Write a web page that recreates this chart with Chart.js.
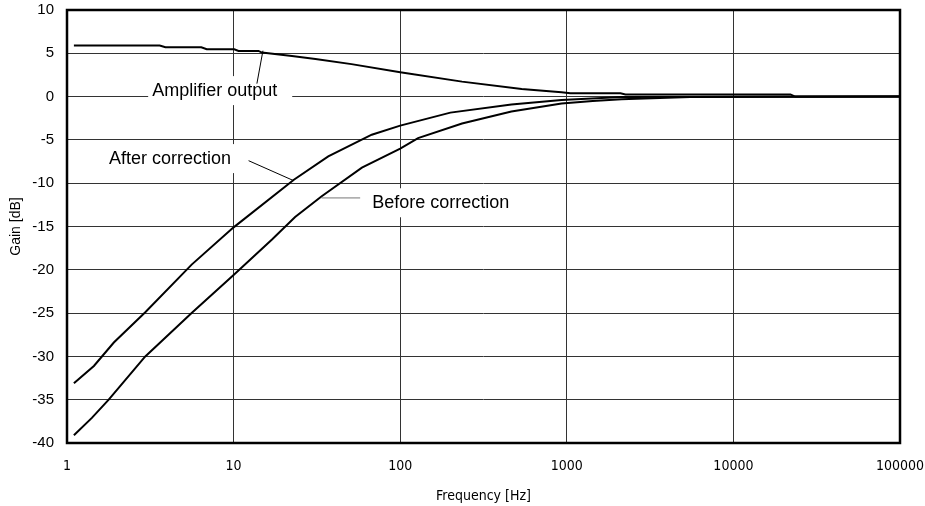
<!DOCTYPE html>
<html>
<head>
<meta charset="utf-8">
<script src="https://cdn.jsdelivr.net/npm/chart.js@4"></script>
<style>
  body { margin: 0; background: #fff; }
  #wrap { width: 925px; height: 506px; }
</style>
</head>
<body>
<div id="wrap"><canvas id="grafico"></canvas></div>
<script>
// frequency response
const ampFreq = [1.1, 3.6, 3.9, 6.4, 6.9, 10.1, 10.7, 14.1, 14.8, 22.4, 31, 51, 100, 235, 536, 930, 1050, 2100, 2250, 22000, 23500, 100000]
const ampGain = [5.9, 5.9, 5.7, 5.7, 5.47, 5.47, 5.28, 5.28, 5.08, 4.7, 4.35, 3.75, 2.8, 1.73, 0.88, 0.5, 0.39, 0.39, 0.25, 0.25, 0, 0]

const afterFreq = [1.1, 1.45, 1.91, 2.95, 5.6, 10, 23, 37, 67.5, 100, 200, 465, 930, 2130, 100000]
const afterGain = [-33.1, -31.1, -28.4, -24.9, -19.4, -15.1, -9.6, -6.9, -4.4, -3.35, -1.85, -0.9, -0.38, -0.05, 0]

const beforeFreq = [1.1, 1.41, 1.78, 2.95, 5.6, 10, 17, 23.4, 33.8, 58.9, 100, 128, 235, 465, 930, 1430, 2130, 5500, 100000]
const beforeGain = [-39.1, -37.1, -35.0, -30.0, -25.0, -20.6, -16.5, -13.9, -11.5, -8.2, -6.0, -4.8, -3.1, -1.73, -0.8, -0.5, -0.3, -0.05, 0]

const xTicks = [1, 10, 100, 1000, 10000, 100000]

// labels with leader lines, in data coordinates
const labels = [
  { text: "Amplifier output", x: 7.7, y: 0.75, align: "center", padR: 15, line: [13.8, 1.5, 15, 5.3], lineColor: "#000" },
  { text: "After correction", x: 4.15, y: -7.1, align: "center", padR: 6, line: [12.3, -7.4, 22.9, -9.7], lineColor: "#000" },
  { text: "Before correction", x: 68, y: -12.2, align: "left", padR: 6, line: [33.7, -11.7, 57.5, -11.7], lineColor: "#777" }
]

const pts = (xs, ys) => xs.map((x, i) => ({ x: x, y: ys[i] }))

const marcoPlugin = {
  id: "marco",
  afterDatasetsDraw(chart) {
    const ctx = chart.ctx
    const a = chart.chartArea
    const sx = chart.scales.x
    const sy = chart.scales.y
    ctx.save()
    ctx.font = "18px 'Liberation Sans', Arial, sans-serif"
    ctx.textBaseline = "middle"
    labels.forEach((l) => {
      const px = sx.getPixelForValue(l.x)
      const py = sy.getPixelForValue(l.y)
      const w = ctx.measureText(l.text).width
      const left = l.align == "center" ? px - w / 2 : px
      ctx.fillStyle = "#fff"
      ctx.fillRect(left - 4, py - 14, w + 4 + l.padR, 29)
      ctx.fillStyle = "#000"
      ctx.textAlign = "left"
      ctx.fillText(l.text, left, py + 1)
      ctx.strokeStyle = l.lineColor
      ctx.lineWidth = 1
      ctx.beginPath()
      ctx.moveTo(sx.getPixelForValue(l.line[0]), sy.getPixelForValue(l.line[1]))
      ctx.lineTo(sx.getPixelForValue(l.line[2]), sy.getPixelForValue(l.line[3]))
      ctx.stroke()
    })
    ctx.strokeStyle = "#000"
    ctx.lineWidth = 2.5
    ctx.strokeRect(a.left, a.top, a.right - a.left, a.bottom - a.top)
    ctx.restore()
  }
}

const lineStyle = { borderColor: "#000", borderWidth: 2, pointRadius: 0, tension: 0, fill: false }
const narrow = "'Liberation Sans Narrow', 'DejaVu Sans Condensed', sans-serif"
const arial = "'Liberation Sans', Arial, sans-serif"

new Chart(document.getElementById("grafico"), {
  type: "line",
  data: {
    datasets: [
      Object.assign({ label: "Amplifier output", data: pts(ampFreq, ampGain) }, lineStyle),
      Object.assign({ label: "After correction", data: pts(afterFreq, afterGain) }, lineStyle),
      Object.assign({ label: "Before correction", data: pts(beforeFreq, beforeGain) }, lineStyle)
    ]
  },
  options: {
    responsive: true,
    maintainAspectRatio: false,
    animation: false,
    layout: { padding: { top: 10, right: 25, left: 0, bottom: 0 } },
    plugins: { legend: { display: false }, tooltip: { enabled: false } },
    scales: {
      x: {
        type: "logarithmic",
        min: 1,
        max: 100000,
        afterBuildTicks: (s) => { s.ticks = xTicks.map((v) => ({ value: v })) },
        afterFit: (s) => {
          s.height = 63
          s.paddingLeft = 0
          s.paddingRight = 0
        },
        ticks: {
          color: "#000",
          padding: 15,
          maxRotation: 0,
          font: { family: narrow, size: 14 },
          callback: (v) => String(v)
        },
        grid: { color: "#333", lineWidth: 1, drawTicks: false },
        border: { display: false },
        title: {
          display: true,
          text: "Frequency [Hz]",
          color: "#000",
          padding: { top: 4, bottom: 1 },
          font: { family: narrow, size: 14 }
        }
      },
      y: {
        min: -40,
        max: 10,
        afterFit: (s) => {
          s.width = 67
          s.paddingTop = 0
          s.paddingBottom = 0
        },
        ticks: {
          stepSize: 5,
          color: "#000",
          padding: 13,
          font: { family: arial, size: 15 }
        },
        grid: { color: "#333", lineWidth: 1, drawTicks: false },
        border: { display: false },
        title: {
          display: true,
          text: "Gain [dB]",
          color: "#000",
          padding: { top: 8, bottom: 0 },
          font: { family: arial, size: 14 }
        }
      }
    }
  },
  plugins: [marcoPlugin]
})
</script>
</body>
</html>
